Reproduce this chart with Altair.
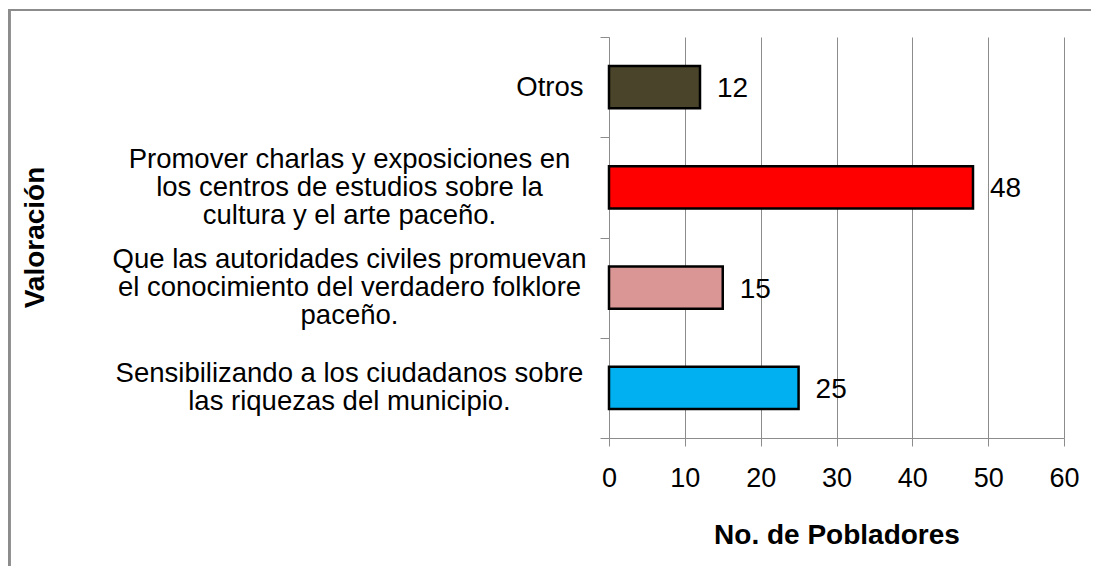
import altair as alt
import pandas as pd

categories = [
    "Otros",
    "Promover charlas y exposiciones en\nlos centros de estudios sobre la\ncultura y el arte paceño.",
    "Que las autoridades civiles promuevan\nel conocimiento del verdadero folklore\npaceño.",
    "Sensibilizando a los ciudadanos sobre\nlas riquezas del municipio.",
]
values = [12, 48, 15, 25]
colors = ["#4A452A", "#FF0000", "#D99694", "#00B0F0"]
x_ticks = [0, 10, 20, 30, 40, 50, 60]

df = pd.DataFrame({"cat": categories, "val": values})

FONT = "Liberation Sans"
GRID = "#8C8C8C"
LH = 28

n_lines = "length(split(datum.value, '\\n'))"

y_enc = alt.Y(
    "cat:N",
    sort=categories,
    scale=alt.Scale(paddingInner=0, paddingOuter=0),
    axis=alt.Axis(
        title="Valoración",
        titleFont=FONT,
        titleFontSize=28,
        titleFontWeight="bold",
        titleColor="#000000",
        titleAngle=270,
        titleX=-574,
        titleY=200,
        titleAlign="center",
        titleBaseline="middle",
        labelFont=FONT,
        labelFontSize=27.5,
        labelColor="#000000",
        labelLineHeight=LH,
        labelExpr="split(datum.label, '\\n')",
        labelAlign={"condition": {"test": n_lines + " == 1", "value": "right"}, "value": "center"},
        labelPadding={"condition": {"test": n_lines + " == 1", "value": 17}, "value": 251},
        labelOffset={
            "condition": [
                {"test": n_lines + " == 3", "value": -LH},
                {"test": n_lines + " == 2", "value": -LH / 2},
            ],
            "value": 0,
        },
        labelBaseline="middle",
        labelLimit=600,
        tickBand="extent",
        tickSize=9,
        tickColor=GRID,
        domainColor=GRID,
        grid=False,
    ),
)

x_enc = alt.X(
    "val:Q",
    scale=alt.Scale(domain=[0, 60], nice=False),
    axis=alt.Axis(
        values=x_ticks,
        title="No. de Pobladores",
        titleFont=FONT,
        titleFontSize=28,
        titleFontWeight="bold",
        titleColor="#000000",
        titleY=97,
        titleBaseline="middle",
        labelFont=FONT,
        labelFontSize=27,
        labelColor="#000000",
        labelPadding=19,
        labelFlush=False,
        tickSize=8,
        tickColor=GRID,
        domainColor=GRID,
        grid=True,
        gridColor=GRID,
        gridOpacity=1,
        gridWidth=1,
    ),
)

bars = alt.Chart(df).mark_bar(
    stroke="#000000", strokeWidth=2.5, height={"band": 0.42}
).encode(
    y=y_enc,
    x=x_enc,
    color=alt.Color("cat:N", scale=alt.Scale(domain=categories, range=colors), legend=None),
)

labels = alt.Chart(df).mark_text(
    align="left", baseline="middle", dx=17, dy=2, font=FONT, fontSize=28, color="#000000"
).encode(
    y=alt.Y("cat:N", sort=categories),
    x="val:Q",
    text="val:Q",
)

frame_left = alt.Chart(df).mark_rule(color="#8C8C8C", strokeWidth=3).encode(
    x=alt.value(-600), y=alt.value(-28), y2=alt.value(529)
)
frame_top = alt.Chart(df).mark_rule(color="#8C8C8C", strokeWidth=2).encode(
    x=alt.value(-601), x2=alt.value(482), y=alt.value(-27)
)

chart = (
    alt.layer(frame_left, frame_top, bars, labels)
    .properties(
        width=455,
        height=401,
        autosize=alt.AutoSizeParams(type="none"),
        padding={"left": 601, "top": 29, "right": 27, "bottom": 128},
        background="#FFFFFF",
    )
    .configure_view(stroke=None)
)

chart.save("out.html", embed_options={"renderer": "svg", "actions": False})
